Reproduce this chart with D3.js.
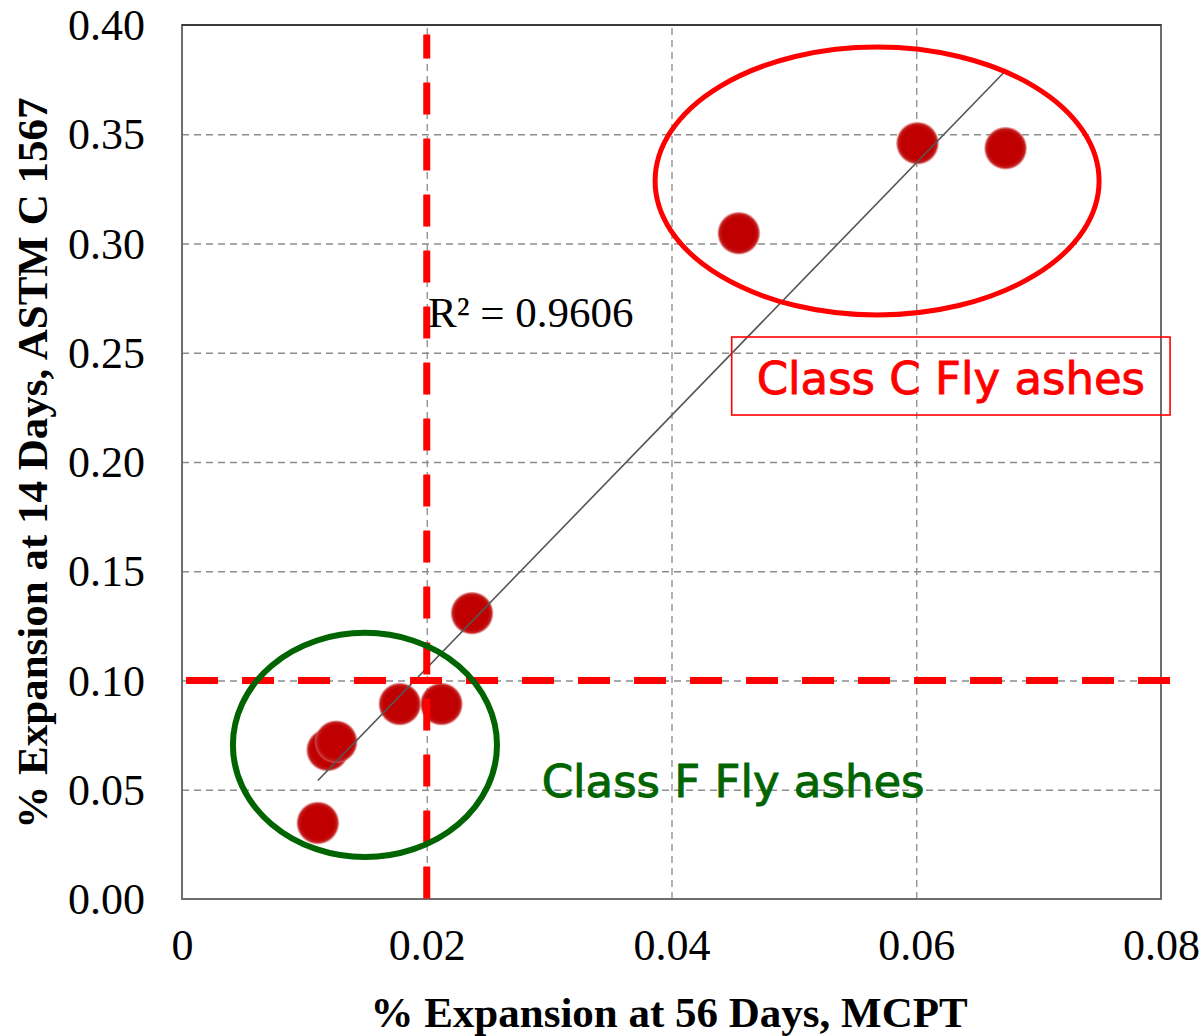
<!DOCTYPE html>
<html>
<head>
<meta charset="utf-8">
<script src="https://cdn.jsdelivr.net/npm/d3@7/dist/d3.min.js"></script>
<style>
  body { margin: 0; background: #fff; }
  svg { display: block; }
</style>
</head>
<body>
<div id="chart"></div>
<script>
// measured points: % expansion at 56 days (MCPT) vs 14 days (ASTM C 1567)
var mcpt56 = [0.0111, 0.0119, 0.0126, 0.0178, 0.0212, 0.0237, 0.0455, 0.0601, 0.0673];
var astm14 = [0.0348, 0.0682, 0.0720, 0.0892, 0.0892, 0.1308, 0.3047, 0.3459, 0.3436];

var xTicks = [0, 0.02, 0.04, 0.06, 0.08];
var xTickLabels = ["0", "0.02", "0.04", "0.06", "0.08"];
var yTicks = [0, 0.05, 0.10, 0.15, 0.20, 0.25, 0.30, 0.35, 0.40];
var yTickLabels = ["0.00", "0.05", "0.10", "0.15", "0.20", "0.25", "0.30", "0.35", "0.40"];

var xLimit = 0.02;   // MCPT limit
var yLimit = 0.10;   // ASTM C 1567 limit
var rSquared = "0.9606";

var width = 1203, height = 1036;
var margin = {top: 25, right: 42, bottom: 137, left: 182};
var plotW = width - margin.left - margin.right;
var plotH = height - margin.top - margin.bottom;

var x = d3.scaleLinear().domain([0, 0.08]).range([0, plotW]);
var y = d3.scaleLinear().domain([0, 0.40]).range([plotH, 0]);

var svg = d3.select("#chart")
    .append("svg")
    .attr("width", width)
    .attr("height", height);

var defs = svg.append("defs");
var grad = defs.append("radialGradient").attr("id", "dot");
grad.append("stop").attr("offset", "76%").attr("stop-color", "#c00000");
grad.append("stop").attr("offset", "90%").attr("stop-color", "#c41c1c");
grad.append("stop").attr("offset", "100%").attr("stop-color", "#d88080").attr("stop-opacity", 0.45);

var g = svg.append("g")
    .attr("transform", "translate(" + margin.left + "," + margin.top + ")");

// grid
g.append("g")
    .call(d3.axisBottom(x).tickValues(xTicks.slice(1, -1)).tickSize(-plotH).tickFormat(""))
    .attr("transform", "translate(0," + plotH + ")")
    .call(function (s) {
        s.select(".domain").remove();
        s.selectAll("line").attr("stroke", "#8c8c8c").attr("stroke-width", 1.3).attr("stroke-dasharray", "7,5");
    });
g.append("g")
    .call(d3.axisLeft(y).tickValues(yTicks.slice(1, -1)).tickSize(-plotW).tickFormat(""))
    .call(function (s) {
        s.select(".domain").remove();
        s.selectAll("line").attr("stroke", "#8c8c8c").attr("stroke-width", 1.3).attr("stroke-dasharray", "7,5");
    });

// frame
g.append("rect")
    .attr("width", plotW).attr("height", plotH)
    .attr("fill", "none").attr("stroke", "#6e6e6e").attr("stroke-width", 2);
g.append("line")
    .attr("x1", 0).attr("x2", plotW).attr("y1", 0).attr("y2", 0)
    .attr("stroke", "#3a3a3a").attr("stroke-width", 2);

// tick labels
g.append("g")
    .attr("transform", "translate(0," + plotH + ")")
    .call(d3.axisBottom(x).tickValues(xTicks).tickSize(0).tickPadding(40)
        .tickFormat(function (d, i) { return xTickLabels[i]; }))
    .call(function (s) {
        s.select(".domain").remove();
        s.selectAll("text").attr("font-family", "Liberation Serif, Times New Roman, serif")
            .attr("font-size", 44).attr("fill", "#000").attr("dy", "0.71em").attr("y", 30);
    });
g.append("g")
    .call(d3.axisLeft(y).tickValues(yTicks).tickSize(0).tickPadding(37)
        .tickFormat(function (d, i) { return yTickLabels[i]; }))
    .call(function (s) {
        s.select(".domain").remove();
        s.selectAll("text").attr("font-family", "Liberation Serif, Times New Roman, serif")
            .attr("font-size", 44).attr("fill", "#000").attr("dy", "0.33em");
    });

// axis titles
svg.append("text")
    .attr("x", margin.left + x(0.0398))
    .attr("y", 1027)
    .attr("text-anchor", "middle")
    .attr("font-family", "Liberation Serif, Times New Roman, serif")
    .attr("font-weight", "bold")
    .attr("font-size", 43)
    .text("% Expansion at 56 Days, MCPT");
svg.append("text")
    .attr("transform", "translate(47," + (margin.top + y(0.1995)) + ") rotate(-90)")
    .attr("text-anchor", "middle")
    .attr("font-family", "Liberation Serif, Times New Roman, serif")
    .attr("font-weight", "bold")
    .attr("font-size", 43)
    .text("% Expansion at 14 Days, ASTM C 1567");

// points
var pts = mcpt56.map(function (d, i) { return [d, astm14[i]]; });
g.selectAll("circle.pt")
    .data(pts)
    .enter()
    .append("circle")
    .attr("class", "pt")
    .attr("cx", function (d) { return x(d[0]); })
    .attr("cy", function (d) { return y(d[1]); })
    .attr("r", 21.5)
    .attr("fill", "url(#dot)");

// linear trendline
var mx = d3.mean(mcpt56), my = d3.mean(astm14);
var sxy = d3.sum(pts, function (d) { return (d[0] - mx) * (d[1] - my); });
var sxx = d3.sum(mcpt56, function (d) { return (d - mx) * (d - mx); });
var slope = sxy / sxx, icpt = my - slope * mx;
var xEnds = d3.extent(mcpt56);
g.append("line")
    .attr("x1", x(xEnds[0])).attr("y1", y(slope * xEnds[0] + icpt))
    .attr("x2", x(xEnds[1])).attr("y2", y(slope * xEnds[1] + icpt))
    .attr("stroke", "#555").attr("stroke-width", 1.6);

// limit lines
g.append("line")
    .attr("x1", x(xLimit)).attr("x2", x(xLimit))
    .attr("y1", y(0.3957)).attr("y2", y(0))
    .attr("stroke", "#ff0000").attr("stroke-width", 7)
    .attr("stroke-dasharray", "32,24").attr("stroke-dashoffset", 8);
g.append("line")
    .attr("x1", x(0.00033)).attr("x2", x(0.08074))
    .attr("y1", y(yLimit)).attr("y2", y(yLimit))
    .attr("stroke", "#ff0000").attr("stroke-width", 7)
    .attr("stroke-dasharray", "32,24");

// groups
g.append("ellipse")
    .attr("cx", x(0.01495)).attr("cy", y(0.0705))
    .attr("rx", x(0.01079)).attr("ry", plotH - y(0.0513))
    .attr("fill", "none").attr("stroke", "#006400").attr("stroke-width", 6);
g.append("ellipse")
    .attr("cx", x(0.0568)).attr("cy", y(0.3286))
    .attr("rx", x(0.01814)).attr("ry", plotH - y(0.0613))
    .attr("fill", "none").attr("stroke", "#ff0000").attr("stroke-width", 5);

// labels
g.append("text")
    .attr("x", x(0.0201)).attr("y", y(0.2618))
    .attr("font-family", "Liberation Serif, Times New Roman, serif")
    .attr("font-size", 43)
    .text("R\u00b2 = " + rSquared);

g.append("rect")
    .attr("x", x(0.04492)).attr("y", y(0.2572))
    .attr("width", x(0.08074) - x(0.04492)).attr("height", y(0.2215) - y(0.2572))
    .attr("fill", "none").attr("stroke", "#ff0000").attr("stroke-width", 1.6);
g.append("text")
    .attr("x", (x(0.04492) + x(0.08074)) / 2).attr("y", y(0.2311))
    .attr("text-anchor", "middle")
    .attr("font-family", "DejaVu Sans, sans-serif")
    .attr("font-size", 45)
    .attr("fill", "#ff0000")
    .attr("stroke", "#ff0000").attr("stroke-width", 0.9)
    .text("Class C Fly ashes");

g.append("text")
    .attr("x", x(0.02939)).attr("y", y(0.0468))
    .attr("font-family", "DejaVu Sans, sans-serif")
    .attr("font-size", 45)
    .attr("fill", "#006400")
    .attr("stroke", "#006400").attr("stroke-width", 0.9)
    .text("Class F Fly ashes");
</script>
</body>
</html>
